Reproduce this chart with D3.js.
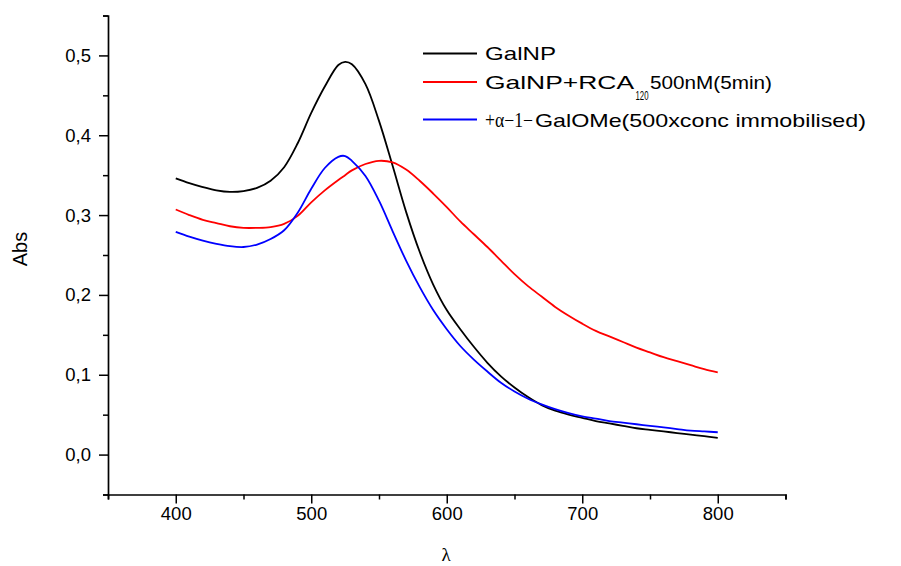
<!DOCTYPE html>
<html>
<head>
<meta charset="utf-8">
<script src="https://cdn.jsdelivr.net/npm/d3@7"></script>
<style>
  html, body { margin: 0; padding: 0; background: #fff; }
  svg { display: block; font-family: "Liberation Sans", Arial, sans-serif; }
</style>
</head>
<body>
<svg id="chart" width="901" height="566"></svg>
<script>
// ---- data ----
const wavelengths = [400,410,420,430,440,450,460,470,480,490,500,510,520,525,530,540,550,560,570,580,590,600,610,620,630,640,650,660,670,680,690,700,710,720,730,740,750,760,770,780,790,800];
const galNP = [0.346,0.340,0.335,0.331,0.329,0.330,0.334,0.343,0.360,0.390,0.428,0.461,0.488,0.492,0.489,0.464,0.418,0.362,0.304,0.254,0.213,0.181,0.157,0.135,0.115,0.098,0.084,0.072,0.062,0.055,0.050,0.046,0.042,0.039,0.036,0.033,0.031,0.029,0.027,0.025,0.023,0.021];
const galNP_RCA = [0.307,0.300,0.294,0.290,0.286,0.284,0.284,0.285,0.289,0.299,0.316,0.331,0.344,0.350,0.356,0.364,0.368,0.366,0.357,0.343,0.327,0.310,0.292,0.276,0.260,0.243,0.226,0.211,0.198,0.185,0.174,0.164,0.155,0.148,0.141,0.134,0.128,0.122,0.117,0.112,0.107,0.103];
const galOMe = [0.279,0.273,0.268,0.264,0.261,0.260,0.263,0.270,0.281,0.303,0.333,0.359,0.373,0.374,0.368,0.349,0.318,0.280,0.243,0.210,0.181,0.157,0.136,0.119,0.104,0.090,0.079,0.070,0.063,0.057,0.052,0.048,0.045,0.042,0.040,0.038,0.036,0.034,0.032,0.030,0.029,0.028];
const xMajorTicks = [400,500,600,700,800];
const xMinorTicks = [350,450,550,650,750,850];
const yMajorTicks = [0.0,0.1,0.2,0.3,0.4,0.5];
const yMinorTicks = [-0.05,0.05,0.15,0.25,0.35,0.45,0.55];
const seriesNames = ["GalNP", "GalNP+RCA", "+α−1−GalOMe(500xconc immobilised)"];
const seriesColors = ["#000000", "#ff0000", "#0000ff"];
const xLabel = "λ";
const yLabel = "Abs";

// ---- layout ----
const svg = d3.select("#chart");
const x = d3.scaleLinear().domain([350, 850]).range([108, 785.5]);
const y = d3.scaleLinear().domain([-0.05, 0.55]).range([494.5, 15.5]);
const fmt = v => d3.format(".1f")(v).replace(".", ",");

// x axis
const gx = svg.append("g").attr("transform", `translate(0,${y(-0.05)})`);
gx.call(d3.axisBottom(x).tickValues(xMajorTicks).tickSize(9).tickPadding(3).tickFormat(d3.format("d")));
gx.append("g").call(d3.axisBottom(x).tickValues(xMinorTicks).tickSize(5).tickFormat(""));
// y axis
const gy = svg.append("g").attr("transform", `translate(${x(350)},0)`);
gy.call(d3.axisLeft(y).tickValues(yMajorTicks).tickSize(9).tickPadding(8).tickFormat(fmt));
gy.append("g").call(d3.axisLeft(y).tickValues(yMinorTicks).tickSize(5).tickFormat(""));

svg.selectAll(".domain").attr("stroke", "#000").attr("stroke-width", 1.7);
svg.selectAll(".tick line").attr("stroke", "#000").attr("stroke-width", 1.5);
svg.selectAll(".tick text").attr("fill", "#000").attr("font-size", "18.5px")
   .attr("font-family", "'Liberation Sans', Arial, sans-serif");
gx.select("g .domain").remove();
gy.select("g .domain").remove();

// axis titles
svg.append("text").attr("transform", "translate(27,249) rotate(-90)")
   .attr("text-anchor", "middle").attr("font-size", "20px").attr("fill", "#000").text(yLabel);
svg.append("text").attr("x", 446).attr("y", 561)
   .attr("text-anchor", "middle").attr("font-size", "19px")
   .attr("font-family", "'Liberation Serif', 'DejaVu Serif', serif").attr("fill", "#000").text(xLabel);

// curves
const seriesData = [galNP, galNP_RCA, galOMe];
const line = d3.line().x(d => x(d[0])).y(d => y(d[1])).curve(d3.curveCatmullRom.alpha(0.5));
seriesData.forEach((vals, i) => {
  svg.append("path")
    .datum(wavelengths.map((w, j) => [w, vals[j]]))
    .attr("fill", "none").attr("stroke", seriesColors[i]).attr("stroke-width", 1.8)
    .attr("stroke-linejoin", "round")
    .attr("d", line);
});

// legend
const legY = [53.5, 82, 119.5];
const lg = svg.append("g");
legY.forEach((ly, i) => {
  lg.append("line").attr("x1", 423).attr("x2", 477).attr("y1", ly).attr("y2", ly)
    .attr("stroke", seriesColors[i]).attr("stroke-width", 1.8);
});
const tx = 485;
lg.append("text").attr("x", tx).attr("y", 60).attr("font-size", "19px").attr("fill", "#000")
  .attr("textLength", 71).attr("lengthAdjust", "spacingAndGlyphs").text(seriesNames[0]);
lg.append("text").attr("x", tx).attr("y", 89).attr("font-size", "19px").attr("fill", "#000")
  .attr("textLength", 149).attr("lengthAdjust", "spacingAndGlyphs").text(seriesNames[1]);
lg.append("text").attr("x", 635.5).attr("y", 100).attr("font-size", "12px").attr("fill", "#000")
  .attr("textLength", 13).attr("lengthAdjust", "spacingAndGlyphs").text("120");
lg.append("text").attr("x", 650).attr("y", 89).attr("font-size", "19px").attr("fill", "#000")
  .attr("textLength", 122).attr("lengthAdjust", "spacingAndGlyphs").text("500nM(5min)");
const l3 = seriesNames[2];
lg.append("text").attr("x", tx).attr("y", 126.5).attr("font-size", "20px").attr("fill", "#000")
  .attr("font-family", "'Liberation Serif', 'DejaVu Serif', serif")
  .attr("textLength", 48).attr("lengthAdjust", "spacingAndGlyphs").text(l3.slice(0, 5));
lg.append("text").attr("x", 535).attr("y", 126.5).attr("font-size", "19px").attr("fill", "#000")
  .attr("textLength", 331).attr("lengthAdjust", "spacingAndGlyphs").text(l3.slice(5));
</script>
</body>
</html>
